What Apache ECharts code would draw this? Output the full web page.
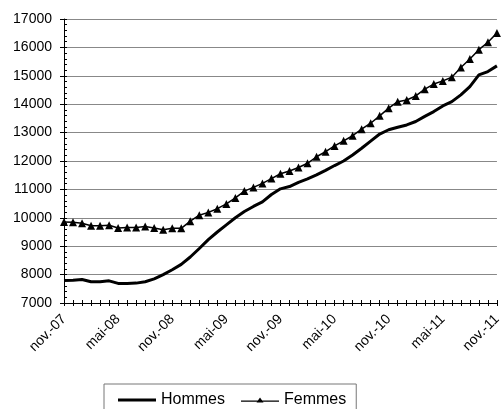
<!DOCTYPE html>
<html>
<head>
<meta charset="utf-8">
<script src="https://cdn.jsdelivr.net/npm/echarts@6/dist/echarts.min.js"></script>
<style>
html,body{margin:0;padding:0;background:#fff;}
#chart{width:504px;height:409px;}
</style>
</head>
<body>
<div id="chart"></div>
<script>
var monthNames = ["nov.", "déc.", "janv.", "févr.", "mars", "avr.", "mai", "juin", "juil.", "août", "sept.", "oct."];
var categories = [];
for (var k = 0; k < 49; k++) {
  var m = k % 12;
  var yr = 7 + Math.floor((k + 10) / 12);
  categories.push(monthNames[m] + "-" + (yr < 10 ? "0" + yr : "" + yr));
}

var hommes = [7790, 7800, 7830, 7750, 7750, 7780, 7690, 7690, 7700, 7750, 7850, 8000,
  8170, 8360, 8620, 8920, 9230, 9500, 9750, 10000, 10220, 10400, 10560, 10820,
  11020, 11100, 11250, 11370, 11510, 11670, 11840, 12000, 12210, 12450, 12700, 12950,
  13100, 13190, 13270, 13390, 13570, 13740, 13940, 14090, 14330, 14620, 15030, 15150,
  15350];

var femmes = [9850, 9840, 9810, 9720, 9720, 9740, 9640, 9660, 9660, 9690, 9640, 9580,
  9630, 9630, 9880, 10090, 10190, 10320, 10490, 10700, 10940, 11070, 11210, 11380,
  11550, 11650, 11770, 11920, 12150, 12330, 12530, 12710, 12890, 13120, 13330, 13590,
  13860, 14090, 14150, 14290, 14530, 14710, 14820, 14950, 15290, 15590, 15920, 16180,
  16510];

var yMin = 7000, yMax = 17000, yStep = 1000;

var chart = echarts.init(document.getElementById('chart'));
var font = 'Liberation Sans, Arial, sans-serif';
chart.setOption({
  animation: false,
  backgroundColor: '#fff',
  grid: { left: 64, right: -1, top: 19, bottom: 106, containLabel: false },
  legend: {
    left: 104, top: 384,
    padding: [8, 10, 8, 14],
    itemGap: 16,
    itemWidth: 38, itemHeight: 14,
    borderColor: '#777', borderWidth: 1,
    textStyle: { fontFamily: font, fontSize: 16, color: '#000' },
    data: [
      { name: 'Hommes', icon: 'path://M0,0h38v3h-38z' },
      { name: 'Femmes', icon: 'path://M0,3.5h38v1.2h-38z M19,0.5L22.5,5.5L15.5,5.5Z' }
    ]
  },
  xAxis: [{
    type: 'category', data: categories, boundaryGap: false,
    axisLine: { lineStyle: { color: '#000', width: 1 } },
    axisTick: { show: true, interval: 0, length: 3, lineStyle: { color: '#000' } },
    axisLabel: { interval: 5, rotate: 45, margin: 14, color: '#000', fontFamily: font, fontSize: 14 },
    splitLine: { show: false }
  }, {
    type: 'category', data: categories, boundaryGap: false, position: 'bottom',
    axisLine: { show: false },
    axisTick: { show: true, inside: true, interval: 0, length: 3, lineStyle: { color: '#000' } },
    axisLabel: { show: false },
    splitLine: { show: false }
  }],
  yAxis: [{
    type: 'value', min: yMin, max: yMax, interval: yStep,
    axisLine: { show: true, lineStyle: { color: '#000', width: 1 } },
    axisTick: { show: true, length: 4, lineStyle: { color: '#000' } },
    axisLabel: { margin: 12, color: '#000', fontFamily: font, fontSize: 14,
      formatter: function (v) { return String(v); } },
    splitLine: { show: true, lineStyle: { color: '#888', width: 1 } }
  }, {
    type: 'value', min: yMin, max: yMax, interval: yStep, position: 'left',
    axisLine: { show: false },
    axisTick: { show: true, inside: true, length: 3, lineStyle: { color: '#000' } },
    minorTick: { show: true, splitNumber: 5, length: 3, lineStyle: { color: '#000' } },
    axisLabel: { show: false },
    splitLine: { show: false }
  }],
  series: [{
    name: 'Hommes', type: 'line', data: hommes,
    xAxisIndex: 0, yAxisIndex: 0,
    symbol: 'none', smooth: false,
    lineStyle: { color: '#000', width: 3 },
    itemStyle: { color: '#000' }
  }, {
    name: 'Femmes', type: 'line', data: femmes,
    xAxisIndex: 0, yAxisIndex: 0,
    symbol: 'triangle', symbolSize: 8, showSymbol: true, showAllSymbol: true,
    lineStyle: { color: '#000', width: 1.5 },
    itemStyle: { color: '#000' }
  }]
});
</script>
</body>
</html>
